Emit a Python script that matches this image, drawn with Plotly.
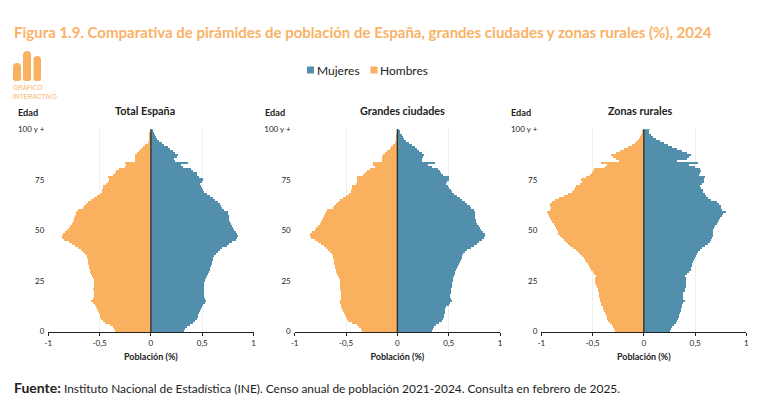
import plotly.graph_objects as go

# Edades de 0 a 100 y más
edades = list(range(101))

# Valores (% de población por edad), de edad 0 a 100
total_mujeres = [
    .33, .34, .35, .38, .41, .43, .45, .46, .46, .47,
    .48, .49, .50, .51, .53, .54, .53, .52, .52, .52,
    .52, .52, .52, .52, .52, .53, .54, .55, .56, .57,
    .58, .58, .59, .60, .60, .61, .61, .62, .64, .66,
    .68, .70, .74, .76, .79, .83, .84, .85, .84, .83,
    .81, .80, .79, .78, .77, .76, .76, .76, .75, .75,
    .72, .70, .69, .68, .66, .63, .61, .58, .55, .52,
    .51, .50, .49, .48, .50, .51, .47, .45, .45, .41,
    .39, .32, .30, .36, .24, .23, .26, .27, .24, .22,
    .19, .17, .13, .11, .08, .06, .05, .04, .03, .02, .02,
]
total_hombres = [
    .35, .36, .37, .40, .44, .46, .48, .49, .49, .50,
    .51, .52, .53, .54, .56, .58, .56, .55, .55, .55,
    .55, .56, .55, .55, .55, .55, .56, .57, .58, .59,
    .59, .60, .60, .61, .61, .61, .62, .62, .64, .66,
    .68, .71, .74, .77, .80, .84, .86, .86, .85, .83,
    .81, .80, .79, .77, .76, .75, .75, .74, .73, .73,
    .71, .66, .65, .63, .61, .58, .55, .52, .49, .47,
    .47, .46, .46, .43, .42, .41, .42, .37, .35, .34,
    .31, .25, .24, .25, .15, .15, .15, .15, .13, .11,
    .09, .07, .05, .03, .02, .02, .01, .01, .01, 0, 0,
]
ciudades_mujeres = [
    .33, .34, .35, .37, .40, .43, .44, .45, .45, .46,
    .46, .46, .47, .50, .51, .53, .52, .51, .51, .52,
    .52, .52, .53, .53, .53, .54, .54, .55, .56, .56,
    .57, .58, .59, .60, .61, .62, .63, .63, .64, .66,
    .68, .71, .74, .77, .79, .82, .84, .85, .85, .83,
    .81, .80, .79, .77, .76, .76, .75, .75, .75, .75,
    .74, .71, .70, .68, .66, .63, .61, .58, .55, .53,
    .52, .50, .49, .47, .48, .50, .50, .44, .42, .41,
    .39, .33, .30, .36, .24, .24, .25, .26, .24, .21,
    .19, .17, .14, .11, .08, .06, .05, .04, .02, .02, .01,
]
ciudades_hombres = [
    .35, .36, .38, .40, .44, .48, .49, .50, .51, .52,
    .53, .54, .55, .55, .56, .56, .55, .55, .55, .55,
    .55, .56, .56, .56, .56, .56, .57, .58, .59, .60,
    .60, .61, .61, .62, .62, .62, .63, .63, .64, .66,
    .68, .70, .72, .75, .78, .81, .84, .85, .85, .83,
    .81, .80, .78, .76, .75, .74, .73, .72, .71, .70,
    .69, .63, .62, .60, .58, .56, .53, .50, .47, .45,
    .45, .44, .44, .41, .40, .40, .40, .34, .32, .30,
    .27, .22, .24, .24, .15, .15, .15, .14, .12, .10,
    .07, .06, .05, .03, .02, .01, .01, .01, 0, 0, 0,
]
rurales_mujeres = [
    .26, .27, .28, .30, .32, .33, .34, .35, .35, .36,
    .37, .37, .38, .38, .39, .40, .39, .39, .39, .39,
    .40, .40, .41, .41, .41, .41, .41, .40, .42, .44,
    .46, .46, .47, .47, .48, .49, .50, .51, .52, .53,
    .55, .57, .60, .63, .65, .66, .67, .68, .68, .68,
    .68, .69, .70, .72, .73, .74, .75, .77, .78, .80,
    .77, .76, .76, .74, .72, .66, .63, .61, .60, .58,
    .58, .56, .55, .57, .59, .59, .60, .54, .55, .56,
    .55, .50, .44, .53, .33, .42, .44, .46, .42, .38,
    .33, .28, .24, .20, .16, .12, .09, .07, .05, .05, .06,
]
rurales_hombres = [
    .28, .29, .30, .31, .33, .35, .36, .36, .37, .38,
    .39, .40, .40, .41, .41, .42, .42, .43, .43, .43,
    .44, .44, .45, .46, .47, .47, .47, .46, .48, .49,
    .51, .52, .53, .54, .56, .57, .58, .60, .62, .64,
    .66, .69, .72, .74, .76, .78, .80, .81, .83, .83,
    .84, .85, .86, .87, .89, .90, .91, .92, .93, .94,
    .91, .90, .91, .91, .89, .86, .82, .78, .74, .70,
    .68, .67, .66, .62, .60, .61, .56, .52, .50, .49,
    .48, .38, .36, .41, .24, .27, .30, .32, .27, .23,
    .19, .15, .11, .08, .06, .04, .03, .02, .01, .01, 0,
]

paneles = [
    ("Total España", total_mujeres, total_hombres, "x", "y", 48.3, 253.5, 144.5),
    ("Grandes ciudades", ciudades_mujeres, ciudades_hombres, "x2", "y2", 294.7, 500, 402.5),
    ("Zonas rurales", rurales_mujeres, rurales_hombres, "x3", "y3", 541.3, 746.3, 639.5),
]

# El navegador deja 8 px de margen en el body
MARGEN = 8
ANCHO, ALTO = 778 - MARGEN, 402 - MARGEN
AZUL, NARANJA = "#528FAD", "#F9B15F"
TITULO_COLOR = "#F9B266"
TEXTO = "#222222"
FUENTE = "Lato"


def px(x):
    return (x - MARGEN) / ANCHO


def py(y):
    return 1 - (y - MARGEN) / ALTO


def texto(x, y, s, size, color=TEXTO, anchor="left", fam=FUENTE):
    return dict(text=s, x=px(x), y=py(y), xref="paper", yref="paper", showarrow=False,
                xanchor=anchor, yanchor="middle", borderpad=0, borderwidth=0,
                font=dict(size=size, color=color, family=fam))


def barra_redonda(x0, x1, y0, y1):
    # Barra con esquinas redondeadas para el icono
    r = (x1 - x0) / 2
    X0, X1, Xm = px(x0), px(x1), px(x0 + r)
    return dict(type="path", xref="paper", yref="paper", fillcolor=NARANJA, line_width=0,
                path=(f"M{X0},{py(y1 - 2)} L{X0},{py(y0 + r)} Q{X0},{py(y0)} {Xm},{py(y0)} "
                      f"Q{X1},{py(y0)} {X1},{py(y0 + r)} L{X1},{py(y1 - 2)} "
                      f"Q{X1},{py(y1)} {Xm},{py(y1)} Q{X0},{py(y1)} {X0},{py(y1 - 2)} Z"))


fig = go.Figure()
layout = {}
anotaciones = []
formas = []

for i, (nombre, mujeres, hombres, xa, ya, izq, der, centro) in enumerate(paneles):
    fig.add_trace(go.Bar(y=edades, x=[-v for v in hombres], orientation="h", name="Hombres",
                         marker=dict(color=NARANJA, line_width=0), xaxis=xa, yaxis=ya,
                         showlegend=False, hoverinfo="skip"))
    fig.add_trace(go.Bar(y=edades, x=mujeres, orientation="h", name="Mujeres",
                         marker=dict(color=AZUL, line_width=0), xaxis=xa, yaxis=ya,
                         showlegend=False, hoverinfo="skip"))
    sufijo = "" if i == 0 else str(i + 1)
    layout["xaxis" + sufijo] = dict(
        domain=[px(izq), px(der)], anchor=ya, range=[-1, 1], automargin=False,
        tickvals=[-1, -.5, 0, .5, 1], ticktext=["-1", "-0,5", "0", "0,5", "1"],
        showgrid=True, gridcolor="#EFEFEF", gridwidth=1, zeroline=False,
        showline=True, linecolor="#222222", linewidth=1,
        ticks="outside", ticklen=3, tickcolor="#222222", tickwidth=1,
        tickfont=dict(size=8, color=TEXTO, family=FUENTE),
        title=dict(text="<b>Población (%)</b>", standoff=6, font=dict(size=9, color=TEXTO, family=FUENTE)),
    )
    layout["yaxis" + sufijo] = dict(
        domain=[py(332.3), py(129.3)], anchor=xa, range=[-.5, 100], automargin=False,
        tickvals=[0, 25, 50, 75, 100], ticktext=["0", "25", "50", "75", "100 y +"],
        showgrid=False, zeroline=False, showline=False, ticks="", ticklabelstandoff=3,
        tickfont=dict(size=8, color=TEXTO, family=FUENTE),
    )
    anotaciones.append(texto(centro, 110, f"<b>{nombre}</b>", 10.8, anchor="center"))
    anotaciones.append(texto(izq - 30, 113, "<b>Edad</b>", 9.2))
    # Eje central sobre las barras
    formas.append(dict(type="line", xref=xa, yref=ya + " domain", x0=0, x1=0, y0=0, y1=1,
                       line=dict(color="#2B2B2B", width=1.3), layer="above"))

anotaciones += [
    texto(14, 32, "<b>Figura 1.9. Comparativa de pirámides de población de España, grandes ciudades y zonas rurales (%), 2024</b>",
          15, TITULO_COLOR),
    texto(14, 387, "<b style='font-size:14px'>Fuente:</b> Instituto Nacional de Estadística (INE). Censo anual de población 2021-2024. Consulta en febrero de 2025.",
          11.9),
    texto(13, 87, "GRÁFICO", 6.5, TITULO_COLOR, fam="Liberation Sans"),
    texto(13, 96, "INTERACTIVO", 6.5, TITULO_COLOR, fam="Liberation Sans"),
    texto(317, 70, "Mujeres", 12),
    texto(380, 70, "Hombres", 12),
]

for x0, x1, y0 in [(13, 21, 63), (23, 31, 51), (33.5, 41, 56)]:
    formas.append(barra_redonda(x0, x1, y0, 81))

# Leyenda manual
for x0, color in [(307, AZUL), (370.5, NARANJA)]:
    formas.append(dict(type="rect", xref="paper", yref="paper", x0=px(x0), x1=px(x0 + 7),
                       y0=py(73.5), y1=py(66.5), fillcolor=color, line_width=0))

fig.update_layout(
    width=ANCHO, height=ALTO, margin=dict(l=0, r=0, t=0, b=0),
    paper_bgcolor="white", plot_bgcolor="white",
    barmode="overlay", bargap=0, font=dict(family=FUENTE),
    annotations=anotaciones, shapes=formas, **layout,
)

fig.write_html("out.html")
